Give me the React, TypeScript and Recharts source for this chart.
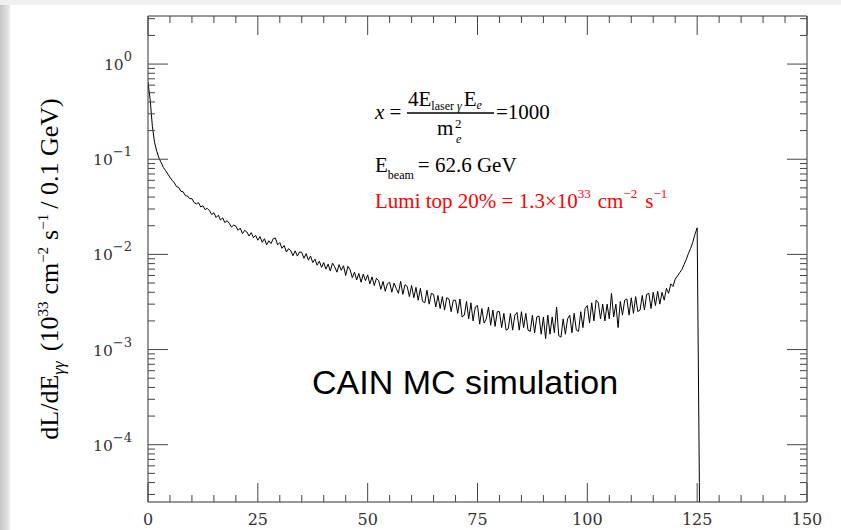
import React from 'react';
import { LineChart, Line, XAxis, YAxis } from 'recharts';

// one point per 0.5 GeV starting at 0, dL/dE in units of 1e-3 (10^33 cm^-2 s^-1 / 0.1 GeV)
const BIN_WIDTH = 0.5;
const lumiMilli = [
  650, 420, 220, 150, 121, 103, 92, 82, 76, 70, 64.5, 60, 56.5, 51.5, 50.5, 46, 45.5, 41.5, 41, 38.5,
  38.5, 35, 34, 35, 31.5, 32.5, 29.5, 30.5, 28.8, 26.2, 27.4, 24.4, 25.8, 23, 24.2, 21.6, 22.6, 21.2, 19.4, 20.3,
  19.8, 17.9, 18.9, 16.5, 17.9, 17.2, 15.6, 16.9, 15, 15.9, 14.1, 15.4, 13.4, 14.6, 12.6, 13.9, 13.0, 14.6, 14.9, 12.6,
  13.3, 11.6, 12.4, 10.6, 11.5, 10.9, 9.7, 10.9, 9.6, 10.6, 10.5, 9.1, 10.2, 8.7, 9.6, 8.2, 8.9, 7.7, 8.5, 7.3,
  8.2, 7.0, 7.9, 6.7, 8.1, 7.4, 6.5, 7.8, 6.8, 7.6, 6.0, 7.5, 6.9, 5.7, 6.5, 5.4, 6.3, 5.1, 6.2, 5.3,
  6.1, 4.9, 5.8, 4.7, 5.6, 5.3, 4.3, 5.2, 4.1, 4.9, 5.1, 4.0, 5.0, 4.4, 3.9, 5.2, 3.8, 4.8, 4.6, 3.6,
  4.7, 3.5, 4.5, 3.3, 4.4, 3.2, 3.1, 4.2, 3.0, 3.9, 3.8, 2.8, 3.7, 2.7, 3.6, 2.6, 3.5, 3.4, 2.5, 3.3,
  3.3, 2.4, 3.4, 2.2, 2.3, 3.2, 2.1, 3.1, 2.0, 2.8, 2.9, 1.85, 2.7, 1.9, 2.1, 2.8, 1.8, 2.6, 1.75, 2.5,
  2.5, 1.7, 2.4, 1.6, 1.65, 2.4, 1.6, 2.3, 2.45, 1.6, 2.5, 1.7, 2.4, 1.6, 1.55, 2.3, 1.5, 2.2, 2.25, 1.45,
  2.2, 1.3, 2.3, 1.45, 2.2, 1.5, 2.8, 1.4, 1.35, 2.1, 1.45, 2.1, 2.3, 1.5, 2.4, 1.6, 1.55, 2.5, 1.7, 2.7,
  2.9, 1.9, 3.1, 2.0, 3.3, 3.1, 2.1, 3.0, 2.0, 3.0, 2.1, 3.9, 2.2, 3.0, 1.7, 3.2, 2.3, 3.3, 3.4, 2.3,
  3.5, 2.4, 3.6, 2.5, 2.6, 3.7, 2.6, 3.8, 3.9, 2.7, 4.0, 2.9, 4.1, 3.0, 4.0, 3.3, 4.4, 3.9, 4.9, 4.6,
  5.5, 5.9, 6.4, 6.9, 7.8, 8.8, 10.2, 11.5, 13.4, 16.3,
  19, 0.04, 0.00001,
];

const xTicks = [0, 5, 10, 15, 20, 25, 30, 35, 40, 45, 50, 55, 60, 65, 70, 75, 80, 85, 90, 95, 100,
  105, 110, 115, 120, 125, 130, 135, 140, 145, 150];
const xMajor = [0, 25, 50, 75, 100, 125, 150];
const yMajor = [1e-4, 1e-3, 1e-2, 1e-1, 1];
const yMinor = [
  3e-5, 4e-5, 5e-5, 6e-5, 7e-5, 8e-5, 9e-5,
  2e-4, 3e-4, 4e-4, 5e-4, 6e-4, 7e-4, 8e-4, 9e-4,
  2e-3, 3e-3, 4e-3, 5e-3, 6e-3, 7e-3, 8e-3, 9e-3,
  0.02, 0.03, 0.04, 0.05, 0.06, 0.07, 0.08, 0.09,
  0.2, 0.3, 0.4, 0.5, 0.6, 0.7, 0.8, 0.9,
  2, 3,
];
const yTicks = [...yMajor, ...yMinor].sort((a, b) => a - b);

const data = lumiMilli.map((v, i) => ({ e: i * BIN_WIDTH, lumi: v / 1000 }));

const TICK = '#444';
const AXIS = '#333';
const SERIF = '"Liberation Serif", "Times New Roman", serif';
const TICKFONT = '"DejaVu Serif", serif';

const isMajorY = (v: number) => {
  const lg = Math.log10(v);
  return Math.abs(lg - Math.round(lg)) < 1e-6;
};

const supText = (v: number) => {
  const exp = Math.round(Math.log10(v));
  return exp < 0 ? '\u2212' + -exp : String(exp);
};

const LeftTick = (props: any) => {
  const { x, y, payload } = props;
  const major = isMajorY(payload.value);
  return (
    <g>
      <line x1={x} x2={x + (major ? 20 : 7)} y1={y} y2={y} stroke={TICK} />
      {major && (
        <text x={x - 16} y={y + 6} textAnchor="end" fontFamily={TICKFONT} fontSize={15.5} fill="#333">
          10<tspan dy={-9} fontSize={13}>{supText(payload.value)}</tspan>
        </text>
      )}
    </g>
  );
};

const RightTick = (props: any) => {
  const { x, y, payload } = props;
  const major = isMajorY(payload.value);
  return <line x1={x} x2={x - (major ? 20 : 7)} y1={y} y2={y} stroke={TICK} />;
};

const BottomTick = (props: any) => {
  const { x, y, payload } = props;
  const major = xMajor.includes(payload.value);
  return (
    <g>
      <line x1={x} x2={x} y1={y} y2={y - (major ? 19 : 7)} stroke={TICK} />
      {major && (
        <text x={x} y={y + 23} textAnchor="middle" fontFamily={TICKFONT} fontSize={16} fill="#333">
          {payload.value}
        </text>
      )}
    </g>
  );
};

const TopTick = (props: any) => {
  const { x, y, payload } = props;
  const major = xMajor.includes(payload.value);
  return <line x1={x} x2={x} y1={y} y2={y + (major ? 19 : 7)} stroke={TICK} />;
};

export default function App() {
  return (
    <div style={{ position: 'absolute', left: 0, top: 0, width: 841, height: 530, background: '#f0f0f0', overflow: 'hidden' }}>
      <div style={{ position: 'absolute', left: 10, top: 5, width: 831, height: 525, background: '#fff' }} />
      <div style={{ position: 'absolute', left: 0, top: 5, width: 10, height: 525, background: 'linear-gradient(to right, #c4c4c4, #ececec)' }} />
      <div style={{ position: 'absolute', left: 0, top: 0 }}>
        <LineChart width={841} height={530} data={data} margin={{ top: 0, right: 0, bottom: 0, left: 0 }}>
          <XAxis
            xAxisId="bottom"
            dataKey="e"
            type="number"
            domain={[0, 150]}
            ticks={xTicks}
            interval={0}
            height={28}
            tickSize={0}
            tickMargin={0}
            tickLine={false}
            axisLine={{ stroke: AXIS }}
            tick={(p: any) => <BottomTick {...p} />}
            allowDataOverflow
          />
          <XAxis
            xAxisId="top"
            orientation="top"
            dataKey="e"
            type="number"
            domain={[0, 150]}
            ticks={xTicks}
            interval={0}
            height={16}
            tickSize={0}
            tickMargin={0}
            tickLine={false}
            axisLine={{ stroke: AXIS }}
            tick={(p: any) => <TopTick {...p} />}
            allowDataOverflow
          />
          <YAxis
            yAxisId="left"
            type="number"
            scale="log"
            domain={[2.5e-5, 3.2]}
            ticks={yTicks}
            interval={0}
            width={148}
            tickSize={0}
            tickMargin={0}
            tickLine={false}
            axisLine={{ stroke: AXIS }}
            tick={(p: any) => <LeftTick {...p} />}
            allowDataOverflow
          />
          <YAxis
            yAxisId="right"
            orientation="right"
            type="number"
            scale="log"
            domain={[2.5e-5, 3.2]}
            ticks={yTicks}
            interval={0}
            width={34}
            tickSize={0}
            tickMargin={0}
            tickLine={false}
            axisLine={{ stroke: AXIS }}
            tick={(p: any) => <RightTick {...p} />}
            allowDataOverflow
          />
          <Line
            xAxisId="bottom"
            yAxisId="left"
            type="linear"
            dataKey="lumi"
            stroke="#000"
            strokeWidth={1}
            dot={false}
            activeDot={false}
            isAnimationActive={false}
          />
        </LineChart>
      </div>
      <svg width={841} height={530} style={{ position: 'absolute', left: 0, top: 0, pointerEvents: 'none' }}>
        <text transform="translate(58,269) rotate(-90)" textAnchor="middle" fontFamily={SERIF} fontSize={26} fill="#000">
          dL/dE<tspan fontStyle="italic" fontSize={17} dy={6}>γγ</tspan>
          <tspan dx={10} dy={-6}>(10</tspan>
          <tspan fontSize={15} dy={-10}>33</tspan>
          <tspan dx={7} dy={10}>cm</tspan>
          <tspan fontSize={15} dy={-10}>{'\u22122'}</tspan>
          <tspan dx={7} dy={10}>s</tspan>
          <tspan fontSize={15} dy={-10}>{'\u22121'}</tspan>
          <tspan dx={5} dy={10}>/ 0.1 GeV)</tspan>
        </text>

        <g fontFamily={SERIF} fontSize={21} fill="#000">
          <text x={375} y={119}><tspan fontStyle="italic">x</tspan> =</text>
          <text x={408} y={106}>
            4E<tspan fontSize={12} dy={4}>laser <tspan fontStyle="italic">γ</tspan></tspan>
            <tspan dx={2} dy={-4}>E</tspan>
            <tspan fontSize={12} fontStyle="italic" dy={3}>e</tspan>
          </text>
          <line x1={407} x2={494} y1={113} y2={113} stroke="#000" strokeWidth={1.3} />
          <text x={437} y={135}>m</text>
          <text x={455} y={128} fontSize={13}>2</text>
          <text x={456} y={143} fontSize={12} fontStyle="italic">e</text>
          <text x={496} y={119}>=1000</text>
          <text x={375} y={172}>
            E<tspan fontSize={12} dy={7}>beam</tspan>
            <tspan dx={4} dy={-7}>= 62.6 GeV</tspan>
          </text>
          <text x={375} y={208} fill="#ff0000">
            Lumi top 20% = 1.3×10
            <tspan fontSize={13} dy={-10}>33</tspan>
            <tspan dx={7} dy={10}>cm</tspan>
            <tspan fontSize={13} dy={-10}>{'\u22122'}</tspan>
            <tspan dx={8} dy={10}>s</tspan>
            <tspan fontSize={13} dy={-10}>{'\u22121'}</tspan>
          </text>
        </g>

        <text x={312} y={394} fontFamily='"Liberation Sans", Arial, sans-serif' fontSize={34} fill="#000">
          CAIN MC simulation
        </text>
      </svg>
    </div>
  );
}
